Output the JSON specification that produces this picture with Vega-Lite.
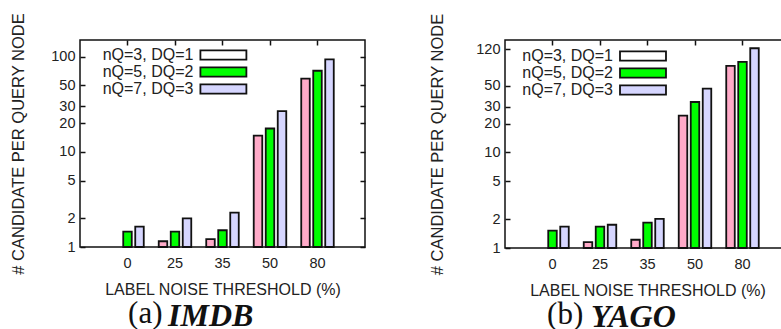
{
  "$schema": "https://vega.github.io/schema/vega-lite/v6.json",
  "padding": {"left": 10, "top": 11, "right": 0, "bottom": 0},
  "background": "white",
  "config": {
    "view": {"stroke": "#111", "strokeWidth": 1.5},
    "axis": {
      "labelFont": "Liberation Sans", "labelFontSize": 14.5, "labelColor": "#222",
      "titleFont": "Liberation Sans", "titleFontWeight": "normal", "titleColor": "#222", "titleFontSize": 16,
      "domain": false, "grid": false, "tickColor": "#111", "tickSize": -5, "tickWidth": 1.5
    },
    "axisY": {"titleFontSize": 16.5},
    "legend": {
      "orient": "none", "padding": 0, "title": null,
      "symbolType": "M-5,-1H5V1H-5Z", "symbolSize": 84.6, "symbolStrokeWidth": 1.8, "symbolStrokeColor": "#111", "symbolOpacity": 1,
      "labelAlign": "right", "labelOffset": -38,
      "labelFont": "Liberation Sans", "labelFontSize": 16, "labelColor": "#222"
    }
  },
  "datasets": {
    "imdb": [
      {"t": 0, "s": "nQ=5, DQ=2", "v": 1.45},
      {"t": 0, "s": "nQ=7, DQ=3", "v": 1.64},
      {"t": 25, "s": "nQ=3, DQ=1", "v": 1.15},
      {"t": 25, "s": "nQ=5, DQ=2", "v": 1.45},
      {"t": 25, "s": "nQ=7, DQ=3", "v": 2.0},
      {"t": 35, "s": "nQ=3, DQ=1", "v": 1.21},
      {"t": 35, "s": "nQ=5, DQ=2", "v": 1.5},
      {"t": 35, "s": "nQ=7, DQ=3", "v": 2.3},
      {"t": 50, "s": "nQ=3, DQ=1", "v": 14.8},
      {"t": 50, "s": "nQ=5, DQ=2", "v": 17.6},
      {"t": 50, "s": "nQ=7, DQ=3", "v": 26.8},
      {"t": 80, "s": "nQ=3, DQ=1", "v": 58.8},
      {"t": 80, "s": "nQ=5, DQ=2", "v": 71.3},
      {"t": 80, "s": "nQ=7, DQ=3", "v": 93.7}
    ],
    "yago": [
      {"t": 0, "s": "nQ=5, DQ=2", "v": 1.52},
      {"t": 0, "s": "nQ=7, DQ=3", "v": 1.67},
      {"t": 25, "s": "nQ=3, DQ=1", "v": 1.15},
      {"t": 25, "s": "nQ=5, DQ=2", "v": 1.67},
      {"t": 25, "s": "nQ=7, DQ=3", "v": 1.75},
      {"t": 35, "s": "nQ=3, DQ=1", "v": 1.22},
      {"t": 35, "s": "nQ=5, DQ=2", "v": 1.84},
      {"t": 35, "s": "nQ=7, DQ=3", "v": 2.02},
      {"t": 50, "s": "nQ=3, DQ=1", "v": 24.3},
      {"t": 50, "s": "nQ=5, DQ=2", "v": 33.7},
      {"t": 50, "s": "nQ=7, DQ=3", "v": 46.4},
      {"t": 80, "s": "nQ=3, DQ=1", "v": 80.6},
      {"t": 80, "s": "nQ=5, DQ=2", "v": 88.7},
      {"t": 80, "s": "nQ=7, DQ=3", "v": 123}
    ]
  },
  "spacing": 62,
  "resolve": {"scale": {"fill": "independent"}, "legend": {"fill": "independent"}},
  "hconcat": [
    {
      "resolve": {"scale": {"fill": "independent"}, "legend": {"fill": "independent"}},
      "title": {"text": "(a)", "orient": "bottom", "anchor": "start", "frame": "bounds", "dx": 118, "dy": -37, "font": "Liberation Serif", "fontSize": 31, "fontWeight": "normal", "color": "#111"},
      "vconcat": [
        {
          "data": {"name": "imdb"},
          "width": 285, "height": 207,
          "title": {"text": "IMDB", "orient": "bottom", "anchor": "start", "frame": "group", "dx": 88, "offset": 3, "font": "Liberation Serif", "fontSize": 32, "fontStyle": "italic", "fontWeight": "bold", "color": "#111"},
          "layer": [
            {
              "mark": {"type": "bar", "stroke": "#111", "strokeWidth": 1.8},
              "encoding": {
                "x": {"field": "t", "type": "ordinal", "scale": {"paddingInner": 0.242, "paddingOuter": 0.621},
                      "axis": {"title": "LABEL NOISE THRESHOLD (%)", "labelAngle": 0, "labelPadding": 14, "titlePadding": 12}},
                "xOffset": {"field": "s", "type": "nominal", "scale": {"paddingInner": 0.29, "paddingOuter": 0.145}},
                "y": {"field": "v", "type": "quantitative", "scale": {"type": "log", "domain": [1, 150], "nice": false},
                      "axis": {"title": "# CANDIDATE PER QUERY NODE", "values": [1, 2, 5, 10, 20, 30, 50, 100], "format": "d", "labelPadding": 10, "titlePadding": 24}},
                "y2": {"datum": 1},
                "fill": {"field": "s", "type": "nominal", "legend": null,
                         "scale": {"domain": ["nQ=3, DQ=1", "nQ=5, DQ=2", "nQ=7, DQ=3"], "range": ["#ffaac8", "#00ff00", "#d6d6ff"]}}
              }
            },
            {
              "mark": {"type": "bar", "opacity": 0, "stroke": "#111", "strokeWidth": 1.8},
              "encoding": {
                "x": {"field": "t", "type": "ordinal", "axis": {"orient": "top", "labels": false, "title": null}},
                "y": {"field": "v", "type": "quantitative", "scale": {"type": "log", "domain": [1, 150], "nice": false},
                      "axis": {"orient": "right", "labels": false, "title": null, "values": [1, 2, 5, 10, 20, 30, 50, 100]}},
                "y2": {"datum": 1},
                "fill": {"field": "s", "type": "nominal",
                         "scale": {"domain": ["nQ=3, DQ=1", "nQ=5, DQ=2", "nQ=7, DQ=3"], "range": ["#ffffff", "#00ff00", "#d6d6ff"]},
                         "legend": {"legendX": 135.4, "legendY": 7, "rowPadding": -6}}
              }
            }
          ],
          "resolve": {"axis": {"x": "independent", "y": "independent"}, "scale": {"fill": "independent"}, "legend": {"fill": "independent"}}
        }
      ]
    },
    {
      "resolve": {"scale": {"fill": "independent"}, "legend": {"fill": "independent"}},
      "title": {"text": "(b)", "orient": "bottom", "anchor": "start", "frame": "bounds", "dx": 118, "dy": -37, "font": "Liberation Serif", "fontSize": 31, "fontWeight": "normal", "color": "#111"},
      "vconcat": [
        {
          "data": {"name": "yago"},
          "width": 285, "height": 208,
          "title": {"text": "YAGO", "orient": "bottom", "anchor": "start", "frame": "group", "dx": 86, "offset": 3, "font": "Liberation Serif", "fontSize": 32, "fontStyle": "italic", "fontWeight": "bold", "color": "#111"},
          "layer": [
            {
              "mark": {"type": "bar", "stroke": "#111", "strokeWidth": 1.8},
              "encoding": {
                "x": {"field": "t", "type": "ordinal", "scale": {"paddingInner": 0.242, "paddingOuter": 0.621},
                      "axis": {"title": "LABEL NOISE THRESHOLD (%)", "labelAngle": 0, "labelPadding": 14, "titlePadding": 12}},
                "xOffset": {"field": "s", "type": "nominal", "scale": {"paddingInner": 0.29, "paddingOuter": 0.145}},
                "y": {"field": "v", "type": "quantitative", "scale": {"type": "log", "domain": [1, 150], "nice": false},
                      "axis": {"title": "# CANDIDATE PER QUERY NODE", "values": [1, 2, 5, 10, 20, 30, 50, 120], "format": "d", "labelPadding": 10, "titlePadding": 30}},
                "y2": {"datum": 1},
                "fill": {"field": "s", "type": "nominal", "legend": null,
                         "scale": {"domain": ["nQ=3, DQ=1", "nQ=5, DQ=2", "nQ=7, DQ=3"], "range": ["#ffaac8", "#00ff00", "#d6d6ff"]}}
              }
            },
            {
              "mark": {"type": "bar", "opacity": 0, "stroke": "#111", "strokeWidth": 1.8},
              "encoding": {
                "x": {"field": "t", "type": "ordinal", "axis": {"orient": "top", "labels": false, "title": null}},
                "y": {"field": "v", "type": "quantitative", "scale": {"type": "log", "domain": [1, 150], "nice": false},
                      "axis": {"orient": "right", "labels": false, "title": null, "values": [1, 2, 5, 10, 20, 30, 50, 120]}},
                "y2": {"datum": 1},
                "fill": {"field": "s", "type": "nominal",
                         "scale": {"domain": ["nQ=3, DQ=1", "nQ=5, DQ=2", "nQ=7, DQ=3"], "range": ["#ffffff", "#00ff00", "#d6d6ff"]},
                         "legend": {"legendX": 130, "legendY": 8, "rowPadding": -6}}
              }
            }
          ],
          "resolve": {"axis": {"x": "independent", "y": "independent"}, "scale": {"fill": "independent"}, "legend": {"fill": "independent"}}
        }
      ]
    }
  ]
}
